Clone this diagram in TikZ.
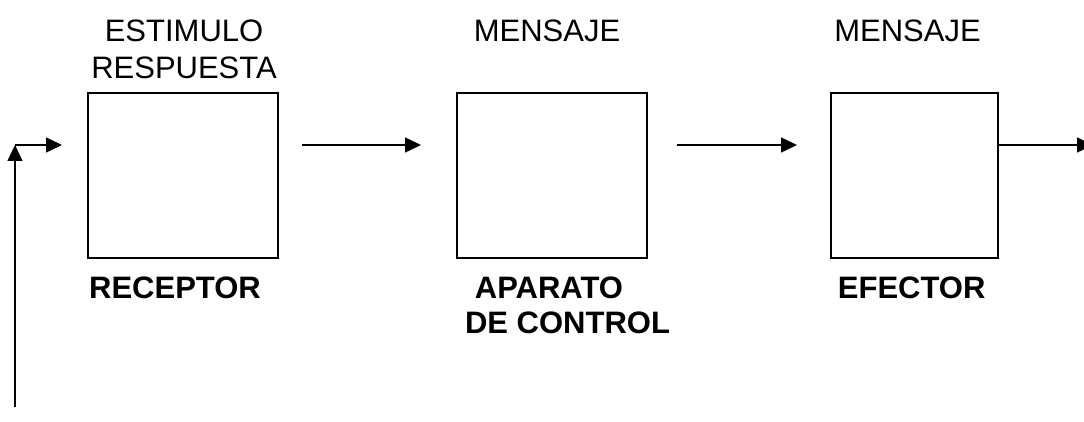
\documentclass[tikz,border=0pt]{standalone}
\usepackage{fontspec}
\setmainfont{Liberation Sans}
\usetikzlibrary{arrows.meta,calc}
\begin{document}
\begin{tikzpicture}[x=1pt,y=-1pt,
  blk/.style={draw,line width=1.6pt,inner sep=0pt,minimum height=165pt},
  arr/.style={line width=1.5pt,-{Triangle[length=16pt,width=15pt]}},
  lbl/.style={inner sep=0pt,font=\fontsize{31}{37.5}\selectfont},
  blbl/.style={inner sep=0pt,font=\fontsize{31}{35}\selectfont\bfseries}]
\useasboundingbox (0,0) rectangle (1084,422);
% boxes
\node[blk,minimum width=190pt] (b1) at (183,175.5) {};
\node[blk,minimum width=190pt] (b2) at (552,175.5) {};
\node[blk,minimum width=167pt] (b3) at (914.5,175.5) {};
% top labels
\node[lbl,anchor=north,align=center] (t1) at (184,19.3) {ESTIMULO\\RESPUESTA};
\node[lbl,anchor=north] (t2) at (547,19.3) {MENSAJE};
\node[lbl,anchor=north] (t3) at (907.5,19.3) {MENSAJE};
% bottom labels
\node[blbl,anchor=base] (l1) at (175,298.3) {RECEPTOR};
\node[blbl,anchor=north,align=center] (l2) at (567.5,276.7) {APARATO\hspace*{37pt}\\DE CONTROL};
\node[blbl,anchor=base] (l3) at (911.7,298.3) {EFECTOR};
% connectors
\coordinate (fb0) at (15,407);
\coordinate (fb1) at (15,145);
\coordinate (fb2) at (62,145);
\draw[arr] (fb0) -- (fb1);
\draw[arr] (fb1) -- (fb2);
\coordinate (a1s) at (302,145);
\coordinate (a1e) at (421,145);
\draw[arr] (a1s) -- (a1e);
\coordinate (a2s) at (677,145);
\coordinate (a2e) at (797,145);
\draw[arr] (a2s) -- (a2e);
\coordinate (out) at (1093,145);
\draw[arr] ([yshift=30.5pt]b3.east) -- (out);
\end{tikzpicture}
\end{document}
